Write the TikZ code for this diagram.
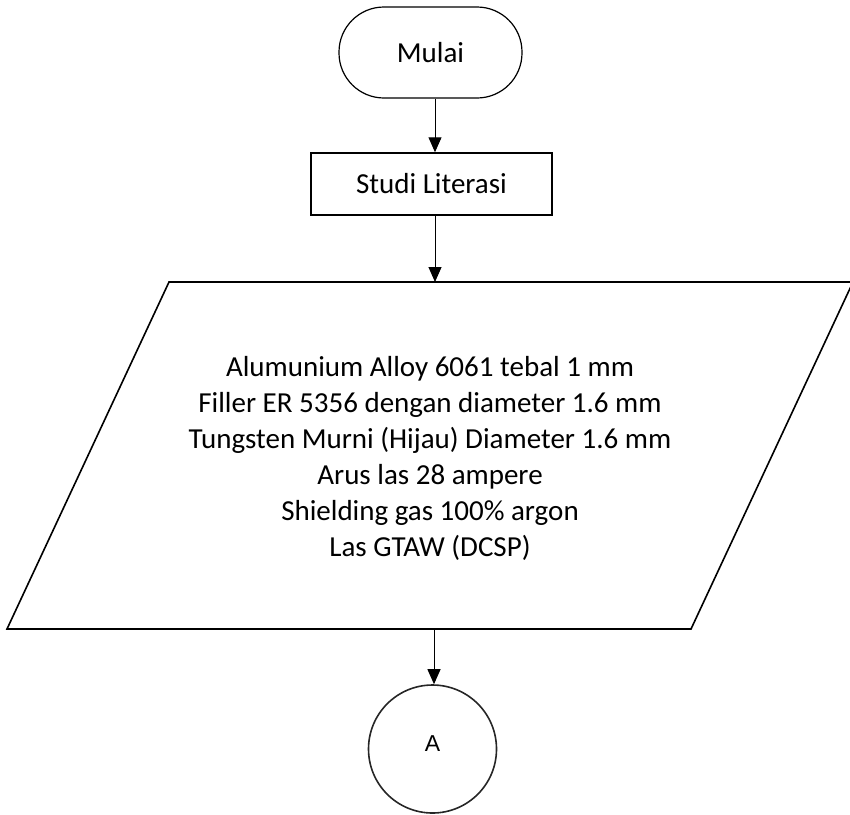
\documentclass[tikz,border=0pt]{standalone}
\usepackage{fontspec}
\setmainfont{Carlito}
\newfontfamily\arialf{Liberation Sans}
\usetikzlibrary{arrows.meta}
\tikzset{
  txt/.style={font=\fontsize{29}{36}\selectfont, align=center, inner sep=0pt},
  termbox/.style={draw, line width=1.2pt, minimum width=183pt, minimum height=91pt, rounded corners=45pt, txt},
  procbox/.style={draw, line width=1.5pt, minimum width=241pt, minimum height=62pt, txt},
  iobox/.style={draw, line width=1.6pt, line join=miter},
  connbox/.style={draw=black!85, line width=1.6pt, circle, minimum size=128pt, inner sep=0pt, font=\arialf\fontsize{23}{26}\selectfont},
  arr/.style={line width=1pt, -{Triangle[length=15pt,width=13pt]}}
}
\begin{document}
\begin{tikzpicture}[x=1pt,y=-1pt]
\useasboundingbox (0,0) rectangle (850,814);
\node[termbox] (mulai) at (430.5,52.5) {Mulai};
\node[procbox] (studi) at (431.5,184) {Studi Literasi};
\begin{scope}
\clip (0,0) rectangle (850,814);
\draw[iobox] (169,282) -- (853,282) -- (691,629) -- (7,629) -- cycle;
\end{scope}
\coordinate (ptop) at (435,282);
\coordinate (pbot) at (434,629);
\node[txt] (data) at (430,458) {Alumunium Alloy 6061 tebal 1 mm\\Filler ER 5356 dengan diameter 1.6 mm\\Tungsten Murni (Hijau) Diameter 1.6 mm\\Arus las 28 ampere\\Shielding gas 100\% argon\\Las GTAW (DCSP)};
\node[connbox] (conA) at (432.5,749) {\raisebox{10pt}{A}};
\draw[arr] (mulai.south -| ptop) -- (studi.north -| ptop);
\draw[arr] (studi.south -| ptop) -- (ptop);
\draw[arr] (pbot) -- (pbot |- conA.north);
\end{tikzpicture}
\end{document}
